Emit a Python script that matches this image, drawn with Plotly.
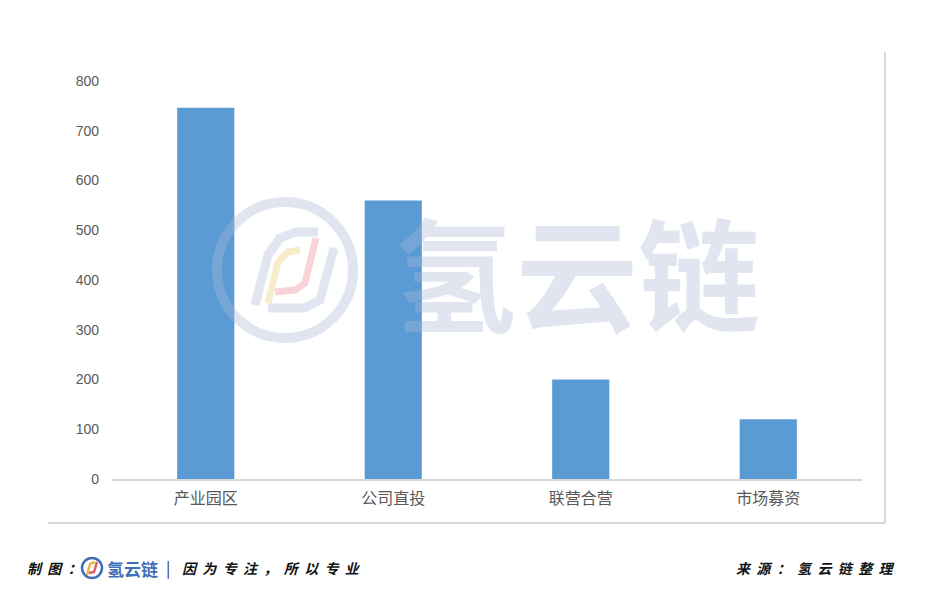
import plotly.graph_objects as go

categories = ["产业园区", "公司直投", "联营合营", "市场募资"]
values = [746, 560, 200, 120]
y_ticks = [0, 100, 200, 300, 400, 500, 600, 700, 800]

OFF = 8  # page body margin
W, H = 949 - 2 * OFF, 596 - 2 * OFF
L, R, T, B = 112 - OFF, 862 - OFF, 81 - OFF, 479 - OFF

def px(x, y):
    x -= OFF
    y -= OFF
    return (x - L) / (R - L), (B - y) / (B - T)

FONT = "Noto Sans CJK SC, Microsoft YaHei, sans-serif"

fig = go.Figure(go.Bar(
    x=categories, y=values,
    marker=dict(color="#5b9bd5", line=dict(width=0)),
    width=0.305,
))

shapes = []
# chart frame (right & bottom)
x0, y0 = px(48, 523)
x1, y1 = px(885, 52)
shapes.append(dict(type="line", xref="paper", yref="paper", x0=x1, x1=x1, y0=y0, y1=y1,
                   line=dict(color="#d9d9d9", width=2)))
shapes.append(dict(type="line", xref="paper", yref="paper", x0=x0, x1=x1, y0=y0, y1=y0,
                   line=dict(color="#d9d9d9", width=2)))

# watermark logo ring
cx, cy, r = 285, 270, 68
a0, b0 = px(cx - r, cy + r)
a1, b1 = px(cx + r, cy - r)
WM = "rgba(170,184,214,0.36)"
shapes.append(dict(type="circle", xref="paper", yref="paper", x0=a0, x1=a1, y0=b0, y1=b1,
                   line=dict(color=WM, width=10), layer="above"))

def path(points, color, width):
    d = ""
    for i, (x, y) in enumerate(points):
        xp, yp = px(x, y)
        d += ("M" if i == 0 else "L") + f"{xp},{yp} "
    return dict(type="path", xref="paper", yref="paper", path=d,
                line=dict(color=color, width=width), layer="above")

shapes.append(path([(255, 305), (268, 255), (280, 238), (296, 232), (318, 232)], WM, 9))
shapes.append(path([(268, 303), (278, 262), (288, 252), (300, 250)], "rgba(240,215,140,0.45)", 7))
shapes.append(path([(316, 238), (305, 283), (295, 290), (275, 292)], "rgba(240,160,170,0.45)", 7))
shapes.append(path([(334, 248), (320, 300), (305, 308), (268, 308)], WM, 9))

# small footer logo ring
fx, fy, fr = 92, 568, 10
a0, b0 = px(fx - fr, fy + fr)
a1, b1 = px(fx + fr, fy - fr)
shapes.append(dict(type="circle", xref="paper", yref="paper", x0=a0, x1=a1, y0=b0, y1=b1,
                   line=dict(color="#3f6fb5", width=2.5)))
shapes.append(path([(87, 575), (90, 564), (95, 562)], "#e8b84a", 2.5))
shapes.append(path([(97, 562), (94, 572), (89, 573)], "#e25c6b", 2.5))

def ann(text, x, y, anchor, font):
    xp, yp = px(x, y)
    return dict(text=text, x=xp, y=yp, xref="paper", yref="paper", showarrow=False,
                xanchor=anchor, yanchor="middle", font=font)

FOOT = dict(family=FONT, size=14, color="#111111", weight="bold", style="italic")
annotations = [
    ann("氢云链", 577, 268, "center", dict(family=FONT, size=122, color=WM, weight="bold")),
    ann("制  图  ：", 25, 568, "left", FOOT),
    ann("氢云链", 105, 568, "left", dict(family=FONT, size=17, color="#3f6fb5", weight="bold")),
    ann("|", 168, 567, "center", dict(family=FONT, size=16, color="#333333")),
    ann("因  为  专  注  ，  所  以  专  业", 180, 568, "left", FOOT),
    ann("来  源  ：  氢  云  链  整  理", 734, 568, "left", FOOT),
]

fig.update_layout(
    width=W, height=H,
    margin=dict(l=L, r=W - R, t=T, b=H - B, pad=0),
    paper_bgcolor="white", plot_bgcolor="white",
    showlegend=False,
    bargap=0.7,
    shapes=shapes,
    annotations=annotations,
    font=dict(family=FONT, color="#595959"),
)
fig.update_xaxes(
    showline=True, linecolor="#d9d9d9", linewidth=1.5,
    showgrid=False, ticks="", tickfont=dict(size=16, color="#595959"),
    ticklabelstandoff=4,
    range=[-0.5, 3.5],
)
fig.update_yaxes(
    range=[0, 800], tickvals=y_ticks, showgrid=False, zeroline=False,
    showline=False, ticks="", ticklabelstandoff=12,
    tickfont=dict(family="Liberation Sans, Arial, sans-serif", size=14, color="#595959"),
)

fig.write_html("out.html")
